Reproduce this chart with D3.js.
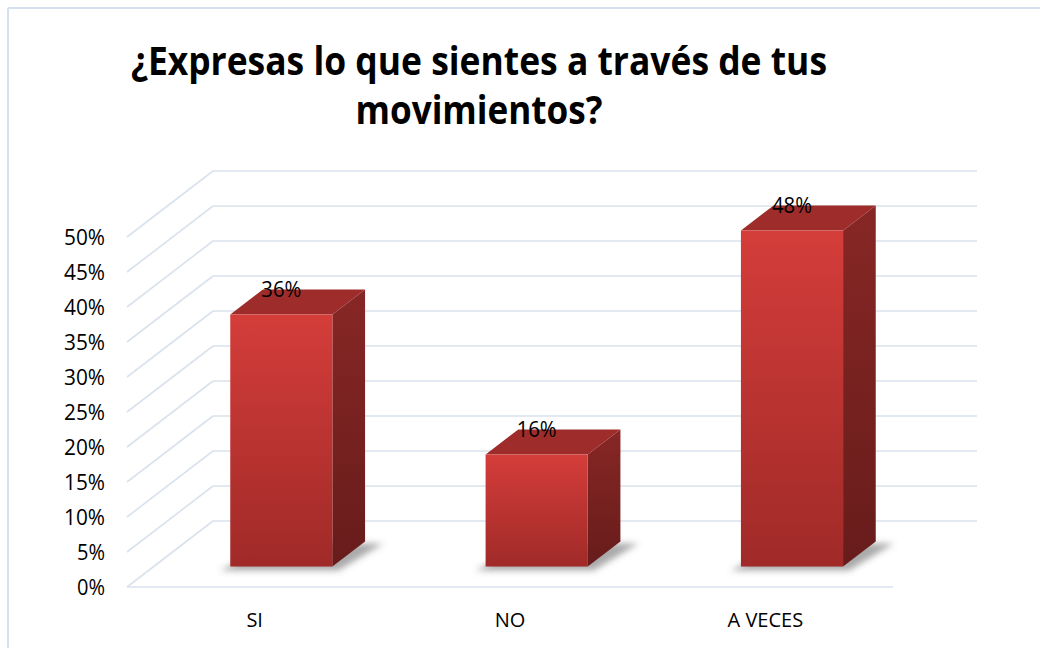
<!DOCTYPE html>
<html>
<head>
<meta charset="utf-8">
<script src="https://cdn.jsdelivr.net/npm/d3@7"></script>
<style>
  html, body { margin: 0; padding: 0; background: #fff; }
  svg { display: block; }
</style>
</head>
<body>
<svg id="chart" width="1040" height="648"></svg>
<script>
// ---- data ----
const categories = ["SI", "NO", "A VECES"];
const values = [0.36, 0.16, 0.48];
const valueLabels = ["36%", "16%", "48%"];
const tickValues = [0, 0.05, 0.10, 0.15, 0.20, 0.25, 0.30, 0.35, 0.40, 0.45, 0.50];
const titleLines = ["¿Expresas lo que sientes a través de tus", "movimientos?"];

// ---- layout ----
const W = 1040, H = 648;
const frontLeft = 127, frontRight = 893;
const yBase = 587, yTop = 237;
const wallDX = 86, wallDY = -66;          // depth of the whole plot
const barFrontFrac = 0.31, barDepthFrac = 0.38;
const bDX = wallDX * barDepthFrac, bDY = wallDY * barDepthFrac;
const fDX = wallDX * barFrontFrac, fDY = wallDY * barFrontFrac;
const gridColor = "#dae2ed";
const fontFam = "'Open Sans', 'Noto Sans', sans-serif";

const svg = d3.select("#chart");

const x = d3.scaleBand().domain(categories).range([frontLeft, frontRight])
  .paddingInner(0.6).paddingOuter(0.3);
const y = d3.scaleLinear().domain([0, 0.5]).range([yBase, yTop]);

// defs
const defs = svg.append("defs");
const gFront = defs.append("linearGradient").attr("id", "gFront")
  .attr("x1", 0).attr("y1", 0).attr("x2", 0).attr("y2", 1);
gFront.append("stop").attr("offset", "0%").attr("stop-color", "#d43d3a");
gFront.append("stop").attr("offset", "100%").attr("stop-color", "#a02a28");
const gSide = defs.append("linearGradient").attr("id", "gSide")
  .attr("x1", 0).attr("y1", 0).attr("x2", 0).attr("y2", 1);
gSide.append("stop").attr("offset", "0%").attr("stop-color", "#872725");
gSide.append("stop").attr("offset", "100%").attr("stop-color", "#671c1b");
const blur = defs.append("filter").attr("id", "blur")
  .attr("x", "-30%").attr("y", "-50%").attr("width", "160%").attr("height", "200%");
blur.append("feGaussianBlur").attr("stdDeviation", 3);

// outer border (top and left visible)
svg.append("line").attr("x1", 8).attr("y1", 8).attr("x2", W).attr("y2", 8)
  .attr("stroke", "#d6e1ef").attr("stroke-width", 2);
svg.append("line").attr("x1", 8).attr("y1", 8).attr("x2", 8).attr("y2", H)
  .attr("stroke", "#d6e1ef").attr("stroke-width", 2);

// title
const title = svg.append("g").attr("font-family", fontFam)
  .attr("font-weight", "bold").attr("font-size", 39).attr("fill", "#000")
  .attr("text-anchor", "middle");
const titleWidths = [696, 247];
const titleBase = [75, 124];
titleLines.forEach((t, i) => {
  title.append("text").attr("x", 479).attr("y", titleBase[i])
    .attr("textLength", titleWidths[i]).attr("lengthAdjust", "spacingAndGlyphs")
    .text(t);
});

// back wall gridlines
const grid = svg.append("g").attr("stroke", gridColor).attr("stroke-width", 1.6).attr("fill", "none");
grid.selectAll("line.back").data(tickValues).join("line")
  .attr("x1", frontLeft + wallDX).attr("x2", frontRight + wallDX - 2)
  .attr("y1", d => y(d) + wallDY).attr("y2", d => y(d) + wallDY);
// left wall diagonals
grid.selectAll("line.side").data(tickValues).join("line")
  .attr("x1", frontLeft).attr("y1", d => y(d))
  .attr("x2", frontLeft + wallDX).attr("y2", d => y(d) + wallDY);
// front floor edge
grid.append("line").attr("x1", frontLeft).attr("x2", frontRight)
  .attr("y1", y(0)).attr("y2", y(0));

// y tick labels
svg.append("g").attr("font-family", fontFam).attr("font-size", 21)
  .attr("text-anchor", "end").attr("fill", "#000")
  .selectAll("text").data(tickValues).join("text")
  .attr("x", 105).attr("y", d => y(d)).attr("dy", "0.36em")
  .attr("textLength", 41).attr("lengthAdjust", "spacingAndGlyphs")
  .attr("textLength", d => d === 0 ? 28 : (d < 0.1 ? 28 : 41))
  .text(d3.format(".0%"));

// category labels
svg.append("g").attr("font-family", fontFam).attr("font-size", 20)
  .attr("text-anchor", "middle").attr("fill", "#000")
  .selectAll("text").data(categories).join("text")
  .attr("x", d => x(d) + x.bandwidth() / 2).attr("y", 620).attr("dy", "0.36em")
  .text(d => d);

// bars
const bars = categories.map((c, i) => {
  const x0 = x(c) + fDX, x1 = x0 + x.bandwidth();
  const yb = y(0) + fDY, yt = y(values[i]) + fDY;
  return { c, v: values[i], lab: valueLabels[i], x0, x1, yb, yt };
});
const line = d3.line();

// shadows
svg.append("g").attr("filter", "url(#blur)").selectAll("path").data(bars).join("path")
  .attr("d", b => line([
    [b.x0 - 10, b.yb + 4], [b.x1 + 6, b.yb + 4],
    [b.x1 + bDX + 18, b.yb + bDY + 2], [b.x0 + bDX + 10, b.yb + bDY + 2]
  ]) + "Z")
  .attr("fill", "#555").attr("opacity", 0.5);

const bg = svg.append("g");
bg.selectAll("path.side").data(bars).join("path").attr("class", "side")
  .attr("d", b => line([[b.x1, b.yb], [b.x1 + bDX, b.yb + bDY], [b.x1 + bDX, b.yt + bDY], [b.x1, b.yt]]) + "Z")
  .attr("fill", "url(#gSide)");
bg.selectAll("path.top").data(bars).join("path").attr("class", "top")
  .attr("d", b => line([[b.x0, b.yt], [b.x1, b.yt], [b.x1 + bDX, b.yt + bDY], [b.x0 + bDX, b.yt + bDY]]) + "Z")
  .attr("fill", "#9d2c2a");
bg.selectAll("rect.front").data(bars).join("rect").attr("class", "front")
  .attr("x", b => b.x0).attr("y", b => b.yt)
  .attr("width", b => b.x1 - b.x0).attr("height", b => b.yb - b.yt)
  .attr("fill", "url(#gFront)");

// value labels
svg.append("g").attr("font-family", fontFam).attr("font-size", 21)
  .attr("text-anchor", "middle").attr("fill", "#000")
  .selectAll("text").data(bars).join("text")
  .attr("x", b => (b.x0 + b.x1) / 2).attr("y", b => b.yt + bDY).attr("dy", "0.36em")
  .attr("textLength", 40).attr("lengthAdjust", "spacingAndGlyphs")
  .text(b => b.lab);
</script>
</body>
</html>
